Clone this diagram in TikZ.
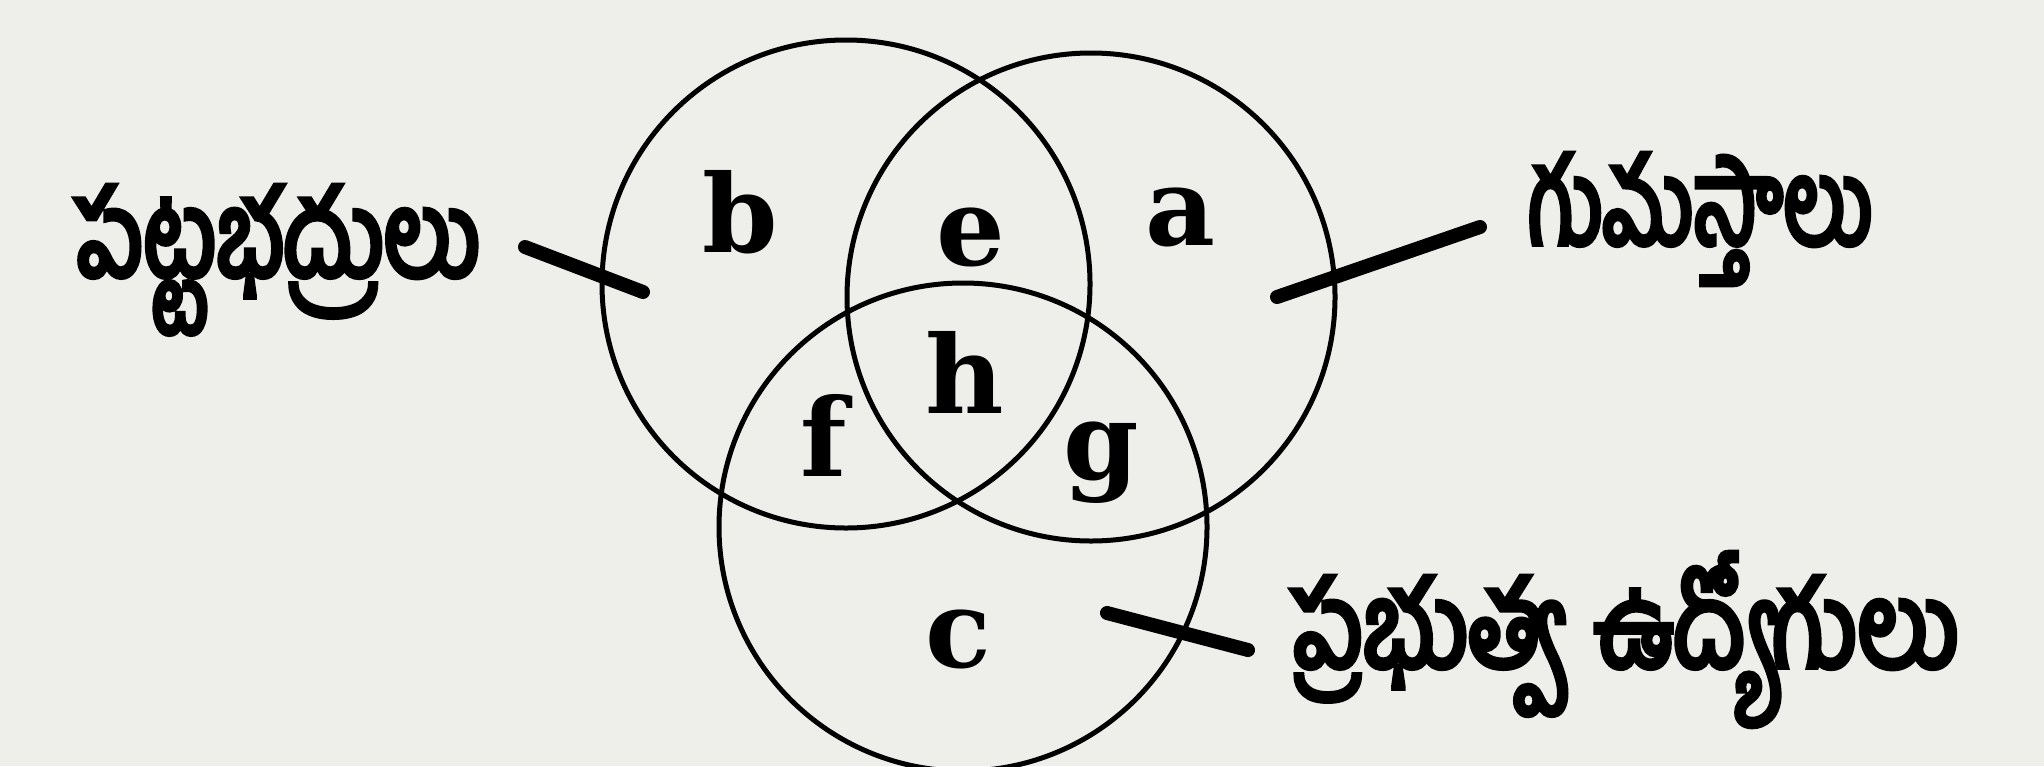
\documentclass[tikz,border=0pt]{standalone}
\usepackage{graphicx}
\usepackage{fontspec}
\setmainfont{DejaVu Serif}
\newfontfamily\tel[Script=Telugu,FakeBold=5]{Hind Guntur}
\newcommand{\telsq}[2]{\scalebox{#1}[1]{#2}}
\begin{document}
\begin{tikzpicture}[x=1pt,y=-1pt,
  setcircle/.style={draw=black,circle,line width=5pt,minimum size=488pt,inner sep=0pt},
  region/.style={font=\fontsize{108}{108}\selectfont\bfseries},
  setname/.style={font=\fontsize{118}{118}\selectfont\tel,inner sep=0pt},
  tick/.style={line width=14pt,line cap=round}]
\fill[fill={rgb,255:red,238;green,238;blue,235}] (0,0) rectangle (2044,766);
\useasboundingbox (0,0) rectangle (2044,766);
\begin{scope}
\clip (0,0) rectangle (2044,766);
\node[setcircle] (L) at (846,284) {};
\node[setcircle] (R) at (1091,297) {};
\node[setcircle] (B) at (963,527) {};
\end{scope}
\node[region] (b) at (740,212) {b};
\node[region] (e) at (971,237) {e};
\node[region] (a) at (1180,217) {a};
\node[region] (h) at (965,372) {h};
\node[region] (f) at (824,435) {f};
\node[region] (g) at (1101,463) {g};
\node[region] (c) at (958,639) {c};
\node[setname,anchor=base east] (tL) at (480,276) {\telsq{0.79}{పట్టభద్రులు}};
\node[setname,anchor=base west] (tR) at (1528,244) {\telsq{0.73}{గుమస్తాలు}};
\node[setname,anchor=base west] (tB) at (1292,667) {\telsq{0.83}{ప్రభుత్వ\hspace{30pt}ఉద్యోగులు}};
\coordinate (l1) at (525,247);
\coordinate (l2) at (643,292);
\coordinate (r1) at (1277,297);
\coordinate (r2) at (1480,227);
\coordinate (c1) at (1107,613);
\coordinate (c2) at (1248,650);
\draw[tick] (l1) -- (l2);
\draw[tick] (r1) -- (r2);
\draw[tick] (c1) -- (c2);
\end{tikzpicture}
\end{document}
